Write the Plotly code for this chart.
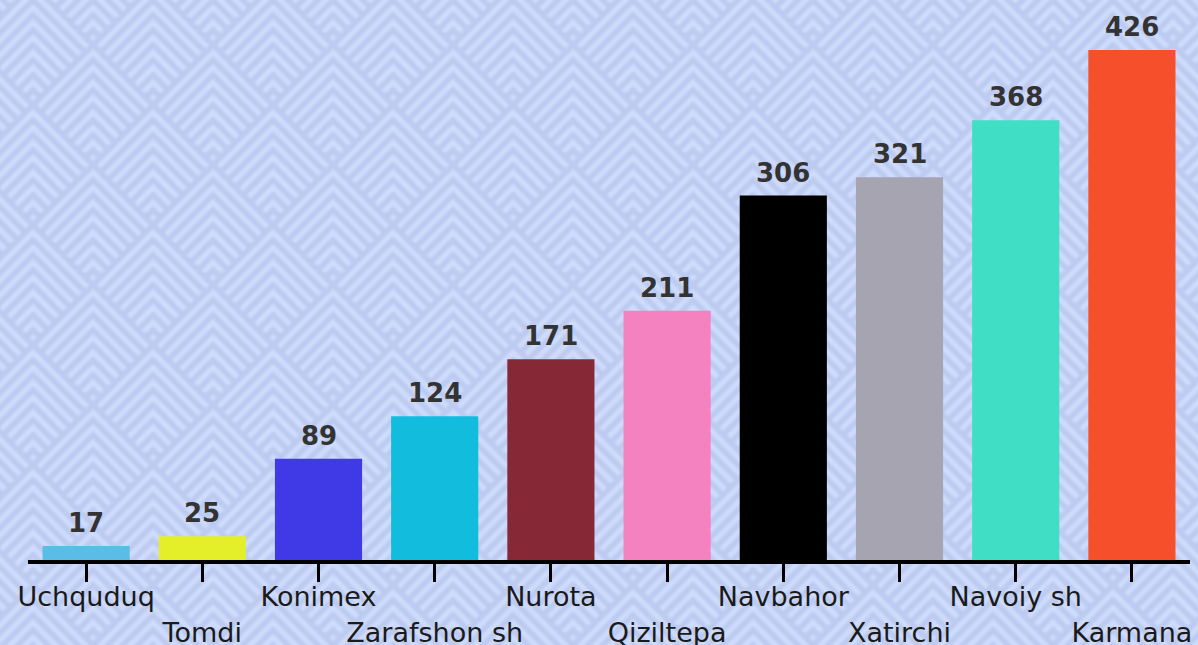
import base64
import plotly.graph_objects as go

# Number of districts per region
districts = ["Uchquduq", "Tomdi", "Konimex", "Zarafshon sh", "Nurota",
             "Qiziltepa", "Navbahor", "Xatirchi", "Navoiy sh", "Karmana"]
counts = [17, 25, 89, 124, 171, 211, 306, 321, 368, 426]
bar_colors = ["#5bbce6", "#e4ef29", "#403ae6", "#12bcdc", "#862836",
              "#f582c0", "#000000", "#a5a4b0", "#40dec5", "#f64f2c"]

W, H = 1198, 645
M = dict(l=28, r=8, t=10, b=85)
PW = W - M["l"] - M["r"]
PH = H - M["t"] - M["b"]

BG = "#cfdcfc"
STRIPE = "#bdcbf1"


def chevron_background(width, height, cell=120, step=15, n=8,
                       ox=33, oy=-15):
    """Nested-chevron diamond pattern as an SVG data URI."""
    lines = []
    half = cell / 2
    for j in range(-3, int(height / half) + 4):
        ay = oy + j * half
        shift = half if j % 2 else 0
        for i in range(-2, int(width / cell) + 3):
            ax = ox + i * cell + shift
            for k in range(n):
                d = k * step
                a = (cell - d) / 2
                y2 = ay + (cell + d) / 2
                lines.append(
                    f"M{ax - a:.1f} {y2:.1f}L{ax:.1f} {ay + d:.1f}L{ax + a:.1f} {y2:.1f}"
                )
    svg = (
        f'<svg xmlns="http://www.w3.org/2000/svg" width="{width}" height="{height}" '
        f'viewBox="0 0 {width} {height}">'
        '<defs><filter id="s"><feGaussianBlur stdDeviation="1"/></filter></defs>'
        f'<rect width="{width}" height="{height}" fill="{BG}"/>'
        f'<path d="{"".join(lines)}" fill="none" stroke="{STRIPE}" '
        'stroke-width="5.6" filter="url(#s)"/></svg>'
    )
    return "data:image/svg+xml;base64," + base64.b64encode(svg.encode()).decode()


# Alternate tick labels between two rows
tick_text = [name if i % 2 == 0 else "<br>" + name for i, name in enumerate(districts)]

fig = go.Figure(
    go.Bar(
        x=districts,
        y=counts,
        marker=dict(color=bar_colors, line=dict(width=0)),
        hoverinfo="x+y",
    )
)

for name, v in zip(districts, counts):
    fig.add_annotation(
        x=name, y=v, text=str(v), showarrow=False,
        yanchor="bottom", yshift=6,
        font=dict(family="DejaVu Sans", size=26, color="#333333", weight="bold"),
    )

fig.add_layout_image(
    source=chevron_background(W, H),
    xref="paper", yref="paper",
    x=-M["l"] / PW, y=1 + M["t"] / PH,
    sizex=W / PW, sizey=H / PH,
    xanchor="left", yanchor="top",
    sizing="stretch", layer="below",
)

fig.update_layout(
    width=W, height=H,
    margin=M,
    paper_bgcolor=BG,
    plot_bgcolor="rgba(0,0,0,0)",
    bargap=0.25,
    showlegend=False,
    font=dict(family="DejaVu Sans", color="#1a1a1a"),
)
fig.update_xaxes(
    tickmode="array", tickvals=districts, ticktext=tick_text,
    showline=True, linecolor="#000000", linewidth=4,
    ticks="outside", ticklen=18, tickwidth=2.5, tickcolor="#000000",
    tickfont=dict(size=27, color="#1a1a1a"),
    ticklabelstandoff=-8,
    showgrid=False, zeroline=False, tickangle=0, automargin=False,
)
fig.update_yaxes(
    range=[5.45, 459], visible=False, showgrid=False, zeroline=False,
    automargin=False,
)

fig.write_html("out.html")
